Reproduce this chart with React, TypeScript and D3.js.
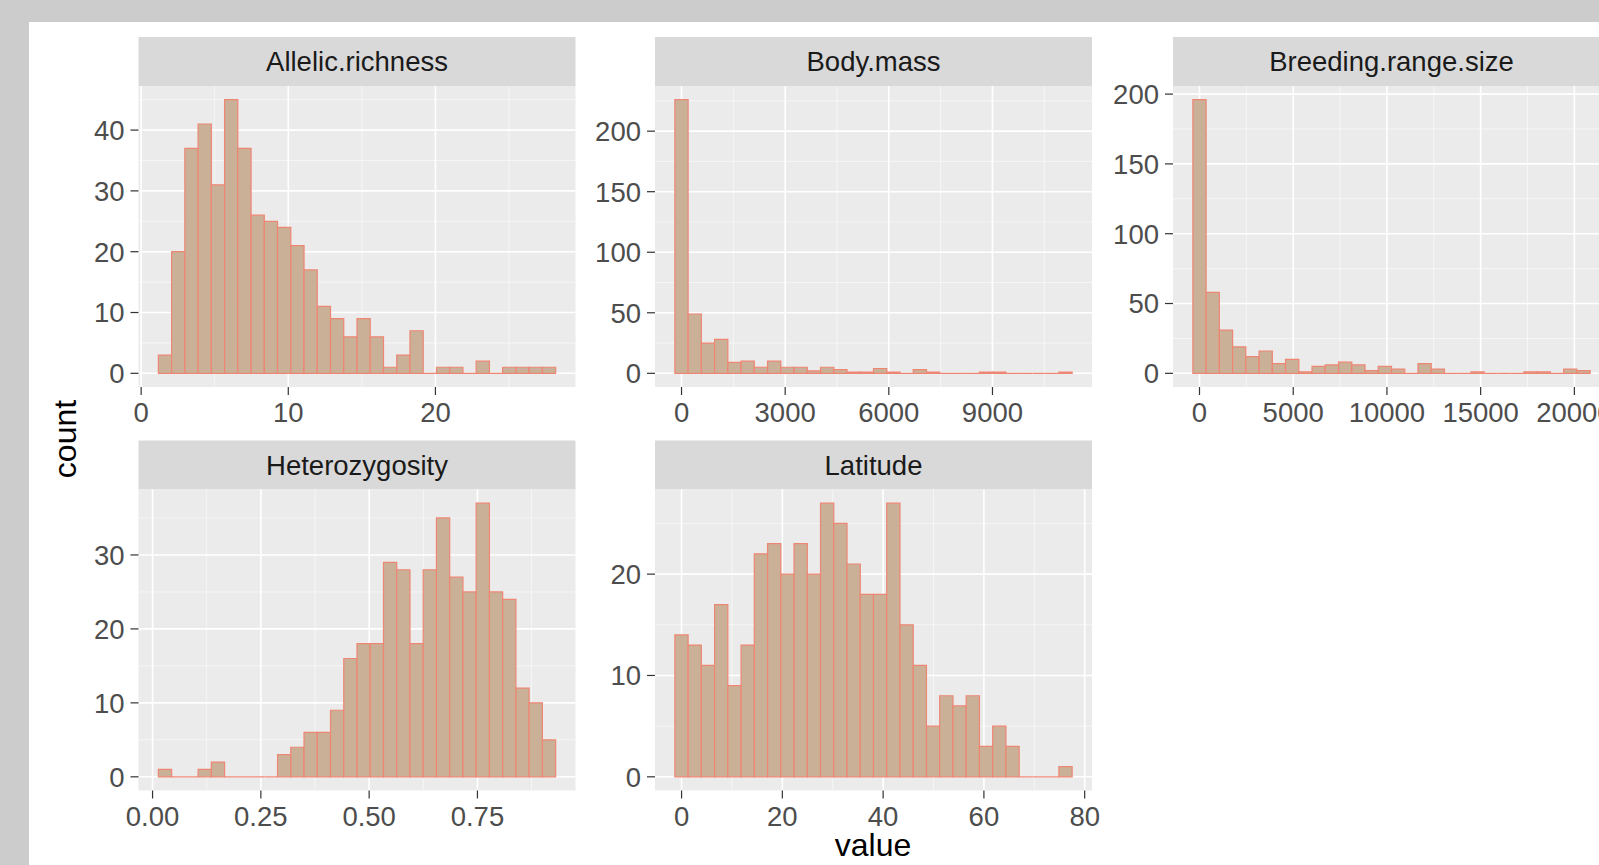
import React from "react"
import * as d3 from "d3"

const W = 1599
const H = 865

// facet strip titles (facet_wrap order)
const facetNames = ["Allelic.richness", "Body.mass", "Breeding.range.size", "Heterozygosity", "Latitude"]

// 30-bin histogram counts
const allelicCounts = [3, 20, 37, 41, 31, 45, 37, 26, 25, 24, 21, 17, 11, 9, 6, 9, 6, 1, 3, 7, 0, 1, 1, 0, 2, 0, 1, 1, 1, 1]
const bodyMassCounts = [226, 49, 25, 28, 9, 10, 5, 10, 5, 5, 2, 5, 3, 1, 1, 4, 1, 0, 3, 1, 0, 0, 0, 1, 1, 0, 0, 0, 0, 1]
const rangeCounts = [196, 58, 31, 19, 12, 16, 7, 10, 1, 5, 6, 8, 6, 2, 5, 3, 0, 7, 3, 0, 0, 1, 0, 0, 0, 1, 1, 0, 3, 2]
const heteroCounts = [1, 0, 0, 1, 2, 0, 0, 0, 0, 3, 4, 6, 6, 9, 16, 18, 18, 29, 28, 18, 28, 35, 27, 25, 37, 25, 24, 12, 10, 5]
const latitudeCounts = [14, 13, 11, 17, 9, 13, 22, 23, 20, 23, 20, 27, 25, 21, 18, 18, 27, 15, 11, 5, 8, 7, 8, 3, 5, 3, 0, 0, 0, 1]

// left edge of the first bin and the bin width of each facet
const binStarts = [1.17, -193, -354, 0.0134, -1.33]
const binWidths = [0.9, 383.3, 706.5, 0.03057, 2.628]

// axis breaks
const allelicXTicks = [0, 10, 20]
const bodyMassXTicks = [0, 3000, 6000, 9000]
const rangeXTicks = [0, 5000, 10000, 15000, 20000]
const heteroXTicks = [0, 0.25, 0.5, 0.75]
const latitudeXTicks = [0, 20, 40, 60, 80]

const allelicYTicks = [0, 10, 20, 30, 40]
const bodyMassYTicks = [0, 50, 100, 150, 200]
const rangeYTicks = [0, 50, 100, 150, 200]
const heteroYTicks = [0, 10, 20, 30]
const latitudeYTicks = [0, 10, 20]

const countsList = [allelicCounts, bodyMassCounts, rangeCounts, heteroCounts, latitudeCounts]
const xTicksList = [allelicXTicks, bodyMassXTicks, rangeXTicks, heteroXTicks, latitudeXTicks]
const yTicksList = [allelicYTicks, bodyMassYTicks, rangeYTicks, heteroYTicks, latitudeYTicks]
const xFormats = [d3.format("d"), d3.format("d"), d3.format("d"), d3.format(".2f"), d3.format("d")]

const FONT = "'Liberation Sans', Arial, Helvetica, sans-serif"
const COL_X = [138.5, 655, 1173]
const ROW_Y = [37, 440.5]
const PANEL_W = 437
const STRIP_H = 49
const PANEL_H = 301
const TICK = 8
const FS = 27.5

const FILL = "#CAB097"
const EDGE = "#EE8674"

function minorBreaks(ticks: number[], lo: number, hi: number) {
  const step = ticks[1] - ticks[0]
  const out: number[] = []
  for (let v = ticks[0] - step / 2; v <= hi; v += step) {
    if (v >= lo) out.push(v)
  }
  return out
}

function Facet({ idx }: { idx: number }) {
  const counts = countsList[idx]
  const start = binStarts[idx]
  const w = binWidths[idx]
  const n = counts.length
  const x0 = COL_X[idx % 3]
  const top = ROW_Y[Math.floor(idx / 3)]
  const pTop = top + STRIP_H
  const pBot = pTop + PANEL_H

  const span = n * w
  const x = d3
    .scaleLinear()
    .domain([start - 0.05 * span, start + span + 0.05 * span])
    .range([x0, x0 + PANEL_W])
  const maxC = d3.max(counts) as number
  const y = d3
    .scaleLinear()
    .domain([-0.05 * maxC, 1.05 * maxC])
    .range([pBot, pTop])

  const xt = xTicksList[idx]
  const yt = yTicksList[idx]
  const [dx0, dx1] = x.domain()
  const [dy0, dy1] = y.domain()
  const xMinor = minorBreaks(xt, dx0, dx1)
  const yMinor = minorBreaks(yt, dy0, dy1)
  const fmt = xFormats[idx]

  return (
    <g>
      <rect x={x0} y={top} width={PANEL_W} height={STRIP_H} fill="#D9D9D9" />
      <text
        x={x0 + PANEL_W / 2}
        y={top + STRIP_H / 2}
        dy="0.36em"
        textAnchor="middle"
        fontSize={FS}
        fill="#1A1A1A"
      >
        {facetNames[idx]}
      </text>
      <rect x={x0} y={pTop} width={PANEL_W} height={PANEL_H} fill="#EBEBEB" />
      {yMinor.map(v => (
        <line key={"ym" + v} x1={x0} x2={x0 + PANEL_W} y1={y(v)} y2={y(v)} stroke="#F7F7F7" strokeWidth={0.9} />
      ))}
      {xMinor.map(v => (
        <line key={"xm" + v} x1={x(v)} x2={x(v)} y1={pTop} y2={pBot} stroke="#F7F7F7" strokeWidth={0.9} />
      ))}
      {yt.map(v => (
        <line key={"yg" + v} x1={x0} x2={x0 + PANEL_W} y1={y(v)} y2={y(v)} stroke="#FFFFFF" strokeWidth={1.6} />
      ))}
      {xt.map(v => (
        <line key={"xg" + v} x1={x(v)} x2={x(v)} y1={pTop} y2={pBot} stroke="#FFFFFF" strokeWidth={1.6} />
      ))}
      {counts.map((c, i) => {
        const a = x(start + i * w)
        const b = x(start + (i + 1) * w)
        const y0 = y(0)
        const y1 = y(c)
        return (
          <path
            key={"b" + i}
            d={`M${a},${y0}V${y1}H${b}V${y0}Z`}
            fill={FILL}
            stroke={EDGE}
            strokeWidth={1.2}
          />
        )
      })}
      {yt.map(v => (
        <g key={"yt" + v}>
          <line x1={x0 - TICK} x2={x0} y1={y(v)} y2={y(v)} stroke="#333333" strokeWidth={1.2} />
          <text x={x0 - TICK - 6} y={y(v)} dy="0.36em" textAnchor="end" fontSize={FS} fill="#4D4D4D">
            {v}
          </text>
        </g>
      ))}
      {xt.map(v => (
        <g key={"xt" + v}>
          <line x1={x(v)} x2={x(v)} y1={pBot} y2={pBot + TICK} stroke="#333333" strokeWidth={1.2} />
          <text x={x(v)} y={pBot + 35} textAnchor="middle" fontSize={FS} fill="#4D4D4D">
            {fmt(v)}
          </text>
        </g>
      ))}
    </g>
  )
}

export default function App() {
  return (
    <div style={{ position: "absolute", left: 0, top: 0, width: W, height: H, overflow: "hidden" }}>
      <svg width={W} height={H} style={{ display: "block", fontFamily: FONT }}>
        <rect x={0} y={0} width={W} height={H} fill="#CCCCCC" />
        <rect x={29} y={22} width={W - 29} height={H - 22} fill="#FFFFFF" />
        {facetNames.map((_, i) => (
          <Facet key={i} idx={i} />
        ))}
        <text
          transform="translate(76,439) rotate(-90)"
          textAnchor="middle"
          fontSize={32}
          fill="#000000"
        >
          count
        </text>
        <text x={873} y={856} textAnchor="middle" fontSize={32} fill="#000000">
          value
        </text>
      </svg>
    </div>
  )
}
